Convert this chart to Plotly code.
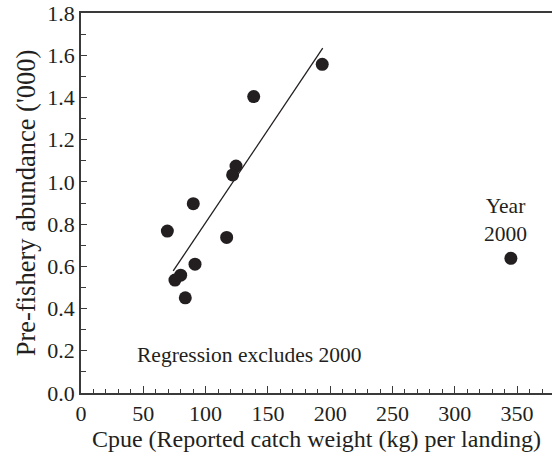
import numpy as np
import plotly.graph_objects as go

# Catch per unit effort vs pre-fishery abundance, by year
cpue = [193.6, 138.6, 124.4, 121.7, 90.1, 69.3, 116.9, 91.5, 80.0, 75.4, 83.7]
abundance = [1.557, 1.404, 1.075, 1.033, 0.897, 0.767, 0.737, 0.610, 0.558, 0.535, 0.451]

# Year 2000 outlier (excluded from the regression)
cpue_2000 = [345.0]
abundance_2000 = [0.638]

# Extent of the fitted line along the x axis
fit_x = [74.0, 194.0]

slope, intercept = np.polyfit(cpue, abundance, 1)
fit_y = [slope * x + intercept for x in fit_x]

FONT = "Liberation Serif"
INK = "#231f20"
AXIS = "#3a3a3a"

fig = go.Figure()
fig.add_trace(go.Scatter(
    x=fit_x, y=fit_y, mode="lines",
    line=dict(color=INK, width=1.3), hoverinfo="skip", showlegend=False,
))
fig.add_trace(go.Scatter(
    x=cpue + cpue_2000, y=abundance + abundance_2000, mode="markers",
    marker=dict(color=INK, size=13, line=dict(width=0)), showlegend=False,
))

fig.add_annotation(x=135, y=0.18, text="Regression excludes 2000", showarrow=False,
                   font=dict(family=FONT, size=21.5, color=INK))
fig.add_annotation(x=341, y=0.82, text="Year<br>2000", showarrow=False,
                   font=dict(family=FONT, size=21.5, color=INK))

fig.update_layout(
    width=552, height=455,
    margin=dict(l=81, r=0, t=13, b=62),
    paper_bgcolor="white", plot_bgcolor="white",
    font=dict(family=FONT, size=22, color=INK),
    xaxis=dict(
        range=[0, 378], dtick=50, tick0=0,
        showgrid=False, zeroline=False,
        showline=True, linecolor=AXIS, linewidth=1.5, mirror=True,
        ticks="inside", ticklen=7, tickwidth=1.2, tickcolor=AXIS,
        minor=dict(ticks="inside", ticklen=4, dtick=10, tickwidth=1.2, tickcolor=AXIS, showgrid=False),
        title=dict(text="Cpue (Reported catch weight (kg) per landing)", font=dict(size=24), standoff=4),
    ),
    yaxis=dict(
        range=[0, 1.8], dtick=0.2, tick0=0, tickformat=".1f",
        showgrid=False, zeroline=False,
        showline=True, linecolor=AXIS, linewidth=1.5,
        ticks="inside", ticklen=6, tickwidth=1.2, tickcolor=AXIS,
        minor=dict(ticks="inside", ticklen=5, dtick=0.1, tickwidth=1.2, tickcolor=AXIS, showgrid=False),
        title=dict(text="Pre-fishery abundance ('000)", font=dict(size=26.5), standoff=4),
    ),
)

fig.write_html("out.html")
